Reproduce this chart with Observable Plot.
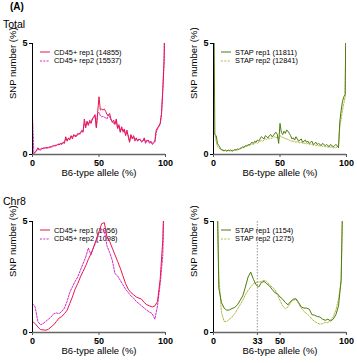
<!DOCTYPE html>
<html>
<head>
<meta charset="utf-8">
<script src="https://cdn.jsdelivr.net/npm/d3@7"></script>
<script src="https://cdn.jsdelivr.net/npm/@observablehq/plot@0.6"></script>
<style>
  body { margin:0; background:#fff; font-family:"Liberation Sans", Arial, sans-serif; }
  #root { position:relative; width:357px; height:363px; overflow:hidden; }
  .t { position:absolute; z-index:5; color:#000; white-space:nowrap; line-height:1; }
  .panel { position:absolute; width:178px; }
  .panel svg { position:relative; z-index:1; }
  .leg { position:absolute; z-index:0; display:flex; align-items:center; height:8px; font-size:7.4px; color:#000; white-space:nowrap; }
  .leg svg { margin-right:4px; }
</style>
</head>
<body>
<div id="root">
  <div class="t" style="left:10px;top:2px;font-size:10px;font-weight:bold;">(A)</div>
  <div class="t" style="left:3px;top:19px;font-size:10.5px;">Total</div>
  <div class="t" style="left:3px;top:196px;font-size:10.5px;">Chr8</div>
</div>
<script>
// B6-type allele bins (%)
const alleleTotal = d3.range(0, 101, 1);
const alleleChr8 = d3.range(0, 101, 2);
const xTicksDefault = [0, 50, 100];
const xTicksRef = [0, 33, 50, 100];
const yTicks = [0, 5];
const yLabel = "SNP number (%)";
const xLabel = "B6-type allele (%)";

// Total, CD45+
const cd45TotalRep1 = [0.1,0.05,0.1,0.15,0.3,0.25,0.2,0.25,0.3,0.28,
 0.3,0.32,0.3,0.35,0.33,0.38,0.4,0.38,0.42,0.45,
 0.43,0.5,0.45,0.55,0.5,0.8,0.6,0.75,0.65,0.85,
 0.7,0.9,0.8,0.85,0.95,0.9,1.0,1.05,1.0,1.6,
 1.2,1.5,1.35,1.5,1.4,1.6,1.7,1.8,1.2,1.9,
 2.6,2.0,2.05,2.0,2.05,1.95,1.8,1.75,1.85,1.6,
 1.45,1.55,1.35,1.6,1.2,1.3,1.0,1.25,1.05,1.15,
 0.85,1.1,0.8,0.55,0.9,0.7,0.85,0.65,0.75,0.6,
 0.7,0.65,0.6,0.62,0.75,0.55,0.6,0.65,0.55,0.6,
 0.5,0.55,0.6,1.1,1.2,1.3,1.4,1.8,2.9,4.2,
 9];
const cd45TotalRep2 = [1.7,0.05,0.1,0.2,0.25,0.2,0.25,0.28,0.25,0.3,
 0.3,0.28,0.33,0.32,0.36,0.35,0.4,0.42,0.4,0.45,
 0.48,0.45,0.52,0.5,0.6,0.7,0.65,0.7,0.75,0.8,
 0.78,0.85,0.88,0.8,0.9,0.95,0.92,1.1,1.05,1.4,
 1.3,1.45,1.3,1.55,1.45,1.6,1.65,1.75,1.25,1.85,
 1.9,1.75,1.7,1.72,1.68,1.65,1.6,1.8,1.7,1.55,
 1.5,1.4,1.45,1.5,1.15,1.35,1.05,1.2,1.0,1.1,
 0.9,1.0,0.85,0.6,0.85,0.75,0.8,0.6,0.7,0.65,
 0.65,0.7,0.55,0.6,0.7,0.5,0.65,0.6,0.5,0.55,
 0.45,0.5,0.55,1.0,1.15,1.25,1.35,1.9,3.0,4.5,
 9];

// Total, STAP
const stapTotalRep1 = [9,0.9,0.85,0.5,0.4,0.3,0.22,0.2,0.18,0.2,
 0.15,0.2,0.18,0.2,0.15,0.18,0.22,0.2,0.25,0.22,
 0.28,0.3,0.35,0.32,0.4,0.38,0.45,0.42,0.5,0.55,
 0.5,0.6,0.55,0.65,0.6,0.7,0.8,0.75,0.7,0.85,
 0.8,0.75,0.85,0.9,0.8,0.85,0.95,1.0,0.9,0.5,
 1.4,1.0,0.9,1.05,0.95,1.1,1.05,0.95,0.85,0.7,
 0.75,0.65,0.8,0.7,0.6,0.65,0.7,0.55,0.6,0.65,
 0.55,0.6,0.5,0.55,0.6,0.45,0.5,0.55,0.45,0.5,
 0.45,0.4,0.5,0.45,0.4,0.45,0.4,0.35,0.45,0.4,
 0.35,0.4,0.45,0.4,0.3,1.5,2.0,2.4,2.6,2.7,
 9];
const stapTotalRep2 = [0.95,0.9,0.6,0.35,0.3,0.25,0.2,0.18,0.15,0.18,
 0.15,0.18,0.16,0.15,0.2,0.18,0.2,0.22,0.2,0.25,
 0.25,0.28,0.3,0.32,0.35,0.38,0.4,0.42,0.45,0.48,
 0.45,0.5,0.55,0.5,0.55,0.6,0.62,0.6,0.65,0.7,
 0.68,0.72,0.7,0.75,0.72,0.78,0.8,0.75,0.78,0.7,
 0.85,0.8,0.78,0.75,0.72,0.7,0.68,0.65,0.62,0.6,
 0.6,0.58,0.55,0.58,0.55,0.52,0.55,0.5,0.52,0.5,
 0.48,0.5,0.45,0.48,0.45,0.42,0.45,0.4,0.42,0.4,
 0.38,0.4,0.36,0.38,0.35,0.36,0.33,0.35,0.32,0.35,
 0.3,0.32,0.3,0.35,0.4,1.3,1.6,2.0,2.3,2.6,
 9];

// Chr8, CD45+
const cd45Chr8Rep1 = [0.5,0.4,0.25,0.13,0.12,0.1,0.15,0.25,0.35,0.5,
 0.65,0.72,0.85,1.0,1.3,1.6,1.95,2.2,2.5,2.75,
 3.0,3.3,3.55,3.85,4.2,4.55,4.9,4.95,4.3,4.1,
 3.8,3.5,3.2,2.9,2.55,2.2,1.95,1.8,1.7,1.6,
 1.55,1.5,1.35,1.25,1.2,1.15,1.2,1.4,2.4,4.2,
 9];
const cd45Chr8Rep2 = [1.3,1.15,0.5,0.35,0.4,0.5,0.6,0.7,0.85,0.88,
 0.85,0.95,1.1,1.4,1.8,2.05,2.3,2.5,2.8,3.1,
 3.4,3.8,3.5,3.85,4.1,4.5,4.65,4.6,3.9,3.6,
 3.25,2.65,2.55,2.35,2.15,1.95,1.8,1.65,1.55,1.4,
 1.3,1.2,1.1,1.0,0.92,0.85,0.6,1.2,2.2,3.5,
 9];

// Chr8, STAP
const stapChr8Rep1 = [9,9,2.0,1.35,1.1,1.0,1.02,1.08,1.13,1.25,
 1.45,1.65,2.05,2.5,2.72,2.4,2.15,2.05,2.25,2.3,
 2.2,2.1,1.95,1.8,1.75,1.6,1.5,1.35,1.25,1.4,
 1.5,1.52,1.35,1.15,1.1,1.1,1.05,0.8,0.78,0.72,
 0.7,0.6,0.55,0.6,0.52,0.6,0.8,1.2,2.4,9,
 9];
const stapChr8Rep2 = [9,9,2.5,0.9,0.5,0.5,0.6,0.7,0.85,1.05,
 1.25,1.45,1.7,1.9,2.05,2.2,2.25,2.27,2.3,2.35,
 2.3,2.15,2.05,1.95,1.7,1.45,1.2,1.07,1.15,1.35,
 1.45,1.5,1.3,1.1,0.95,0.85,0.75,0.6,0.5,0.42,
 0.38,0.4,0.45,0.45,0.55,0.7,1.0,1.5,2.3,9,
 9];

const red = "#e8174b", magenta = "#d42ccb", green = "#4b7c10", olive = "#b6b845";

function panel({left, top, height, marginBottom, xs, s1, s2, c1, c2, lab1, lab2, xTicks, ref}) {
  const root = document.getElementById("root");
  const box = document.createElement("div");
  box.className = "panel";
  box.style.left = left + "px";
  box.style.top = top + "px";
  box.style.height = height + "px";
  const rows1 = xs.map((x, i) => ({x, y: s1[i]}));
  const rows2 = xs.map((x, i) => ({x, y: s2[i]}));
  const chart = Plot.plot({
    width: 178, height,
    marginLeft: 32, marginRight: 13, marginTop: 13, marginBottom,
    x: {domain: [0, 100]},
    y: {domain: [0, 5]},
    style: {background: "transparent", fontFamily: "Liberation Sans, Arial, sans-serif", fontSize: "9px", color: "#000", overflow: "visible"},
    marks: [
      Plot.axisY({ticks: yTicks, tickFormat: "d", tickSize: 3, tickPadding: 2, fontWeight: "bold", label: null}),
      Plot.axisX({ticks: xTicks, tickFormat: "d", tickSize: 3, tickPadding: 2, fontWeight: "bold", stroke: "#555", label: null}),
      Plot.text([yLabel], {text: d => d, frameAnchor: "left", rotate: -90, dx: -20, fontSize: 9.5, fill: "#000"}),
      Plot.text([xLabel], {text: d => d, frameAnchor: "bottom", dy: 21, fontSize: 9.5, fill: "#000"}),
      ref != null ? Plot.ruleX([ref], {stroke: "#aaa", strokeWidth: 1.3, strokeDasharray: "1.5,1.5"}) : null,
      Plot.line(rows2, {x: "x", y: "y", stroke: c2, strokeWidth: 1, strokeDasharray: "2,1.3", clip: true}),
      Plot.line(rows1, {x: "x", y: "y", stroke: c1, strokeWidth: 1, clip: true}),
      Plot.ruleY([0], {stroke: "#666", strokeWidth: 1.6}),
      Plot.ruleX([0], {stroke: "#000", strokeWidth: 1})
    ]
  });
  const legRows = [[lab1, c1, null, 18], [lab2, c2, "2,1.3", 26.7]];
  for (const [lab, col, dash, t] of legRows) {
    const d = document.createElement("div");
    d.className = "leg";
    d.style.left = "40px";
    d.style.top = t + "px";
    d.innerHTML = `<svg width="10" height="8"><line x1="0" x2="10" y1="4" y2="4" stroke="${col}" stroke-width="1" ${dash ? `stroke-dasharray="${dash}"` : ""}/></svg><span>${lab}</span>`;
    box.appendChild(d);
  }
  box.appendChild(chart);
  root.appendChild(box);
}

panel({left: 0, top: 30, height: 156, marginBottom: 32, xs: alleleTotal, s1: cd45TotalRep1, s2: cd45TotalRep2, c1: red, c2: magenta,
  lab1: "CD45+ rep1 (14855)", lab2: "CD45+ rep2 (15537)", xTicks: xTicksDefault});
panel({left: 181, top: 30, height: 156, marginBottom: 32, xs: alleleTotal, s1: stapTotalRep1, s2: stapTotalRep2, c1: green, c2: olive,
  lab1: "STAP rep1 (11811)", lab2: "STAP rep2 (12841)", xTicks: xTicksDefault});
panel({left: 0, top: 208, height: 154, marginBottom: 30, xs: alleleChr8, s1: cd45Chr8Rep1, s2: cd45Chr8Rep2, c1: red, c2: magenta,
  lab1: "CD45+ rep1 (1056)", lab2: "CD45+ rep2 (1098)", xTicks: xTicksDefault});
panel({left: 181, top: 208, height: 154, marginBottom: 30, xs: alleleChr8, s1: stapChr8Rep1, s2: stapChr8Rep2, c1: green, c2: olive,
  lab1: "STAP rep1 (1154)", lab2: "STAP rep2 (1275)", xTicks: xTicksRef, ref: 33});
</script>
</body>
</html>
